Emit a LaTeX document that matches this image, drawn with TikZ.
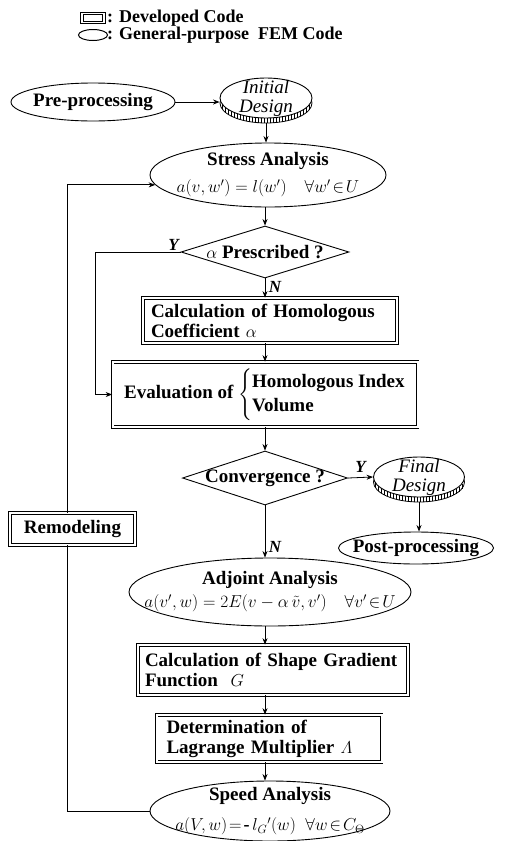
\documentclass[tikz,border=0pt]{standalone}
\usepackage{amsmath}
\usepackage{fontspec}
\setmainfont{Liberation Serif}
\usetikzlibrary{shapes.geometric,arrows.meta,calc}
\tikzset{
  txt/.style={font=\fontsize{19}{21}\selectfont\bfseries, inner sep=0pt},
  legf/.style={font=\fontsize{18}{19}\selectfont\bfseries, inner sep=0pt},
  itx/.style={font=\fontsize{19}{19}\selectfont\itshape, inner sep=0pt},
  yn/.style={font=\fontsize{17}{17}\selectfont\bfseries\itshape, inner sep=1.5pt},
  fem/.style={ellipse, draw, line width=0.9pt, fill=white, inner sep=0pt},
  dev/.style={rectangle, draw, double, double distance=2pt, line width=0.7pt,
    font=\fontsize{19}{20}\selectfont\bfseries, inner xsep=6pt, inner ysep=2pt},
  dec/.style={diamond, draw, line width=0.9pt, inner sep=0pt},
  arr/.style={-{Stealth[length=6.5pt,width=5pt]}, line width=0.8pt},
  lin/.style={line width=0.8pt},
}
\newcommand\fml{\fontsize{18}{19}\selectfont}
% disc rim: #1 cx, #2 cy, #3 x radius, #4 y radius
\newcommand\discrim[4]{%
  \draw[lin, fill=white] (#1,#2+5) ellipse [x radius=#3, y radius=#4];
  \foreach \t in {-44,-41,...,44}
    \draw[line width=0.5pt] ({#1+\t},{#2+#4*sqrt(1-(\t/#3)^2)}) -- ++(0,5);
}
\begin{document}
\begin{tikzpicture}[x=1pt,y=-1pt]
\useasboundingbox (0,0) rectangle (507,841);

% legend
\node[draw, double, double distance=1.6pt, line width=1pt, minimum width=22, minimum height=9, inner sep=0pt] (lrect) at (93,18) {};
\node[legf, anchor=west] (ltxt1) at (107,18) {: Developed Code};
\node[draw, ellipse, line width=1pt, minimum width=29, minimum height=11, inner sep=0pt] (lell) at (93,35) {};
\node[legf, anchor=west] (ltxt2) at (107,35) {: General-purpose\ \ FEM Code};

% pre-processing / initial design
\node[fem, minimum width=164, minimum height=38] (pre) at (93,102) {};
\node[txt] (pre-t) at (pre) {Pre-processing};
\discrim{266}{98}{46}{20}
\node[fem, minimum width=92, minimum height=40] (init) at (266,98) {};
\node[itx, align=center] (init-t) at (init) {Initial\\Design};
\coordinate (initb) at (266,123);

% stress analysis
\node[fem, minimum width=236, minimum height=64] (stress) at (268,175) {};
\node[txt, align=center] (stress-t) at (stress) {Stress Analysis\\[6pt]\fml$a(v,w')=l(w')\quad\forall w'\!\in\! U$};

% alpha prescribed
\node[dec, minimum width=168, minimum height=52] (alpha) at (265,252) {};
\node[txt] (alpha-t) at (alpha) {$\alpha$ Prescribed ?};

% calculation of homologous coefficient
\node[dev, minimum width=254, minimum height=45, text width=238, align=left] (calc) at (270,320.5)
  {Calculation of Homologous\\Coefficient $\alpha$};

% evaluation
\node[dev, minimum width=305, minimum height=65, align=center] (eval) at (265,394.5)
  {Evaluation of $\left\{\renewcommand\arraystretch{1.2}\begin{tabular}{@{}l@{}}Homologous Index\\Volume\end{tabular}\right.$};

% convergence
\node[dec, minimum width=165, minimum height=54] (conv) at (265,478) {};
\node[txt] (conv-t) at (conv) {Convergence ?};

% final design / post
\discrim{419}{477}{45.5}{20}
\node[fem, minimum width=91, minimum height=40] (final) at (419,477) {};
\node[itx, align=center] (final-t) at (final) {Final\\Design};
\coordinate (finalb) at (419,502);
\node[fem, minimum width=155, minimum height=32] (post) at (416,548) {};
\node[txt] (post-t) at (post) {Post-processing};

% adjoint analysis
\node[fem, minimum width=282, minimum height=68] (adj) at (270,592) {};
\node[txt, align=center] (adj-t) at (adj) {Adjoint Analysis\\[2pt]\fml$a(v',w)=2E(v-\alpha\,\tilde{v},v')\quad\forall v'\!\in\! U$};

% shape gradient
\node[dev, minimum width=270, minimum height=50, text width=256, align=left] (shape) at (273,670)
  {Calculation of Shape Gradient\\Function\ \ $G$};

% lagrange
\node[dev, minimum width=225, minimum height=47, text width=205, align=left] (lag) at (269,738.5)
  {Determination of\\Lagrange Multiplier $\varLambda$};

% speed analysis
\node[fem, minimum width=240, minimum height=60] (speed) at (270,811) {};
\node[txt, align=center] (speed-t) at (speed) {Speed Analysis\\[9pt]\fml$a(V,w)\!=\!\text{-}\,l_G{}'(w)\;\;\forall w\!\in\! C_{\Theta}$};

% remodeling
\node[dev, minimum width=125, minimum height=32] (remodel) at (72.5,529) {Remodeling};
\coordinate (rb) at (67,545);
\coordinate (rt) at (67,513);

% connectors
\draw[arr] (pre.east) -- (pre.east -| init.west);
\draw[arr] (initb) -- (initb |- stress.north);
\draw[arr] (stress.south -| alpha.north) -- (alpha.north);
\draw[arr] (alpha.south) -- node[yn, pos=0.45, right=2pt] (n1) {N} (alpha.south |- calc.north);
\coordinate (yc) at (95,252);
\draw[arr] (alpha.west) -- (yc) |- (eval.west);
\node[yn, anchor=south east] (y1) at (alpha.west) {Y};
\draw[arr] (calc.south -| alpha.south) -- (alpha.south |- eval.north);
\draw[arr] (eval.south) -- (conv.north);
\draw[arr] (conv.east) -- node[yn, midway, above=3pt] (y2) {Y} (final.west);
\draw[arr] (finalb) -- (post.north -| finalb);
\draw[arr] (conv.south) -- node[yn, pos=0.8, right=2pt] (n2) {N} (conv.south |- adj.north);
\draw[arr] (conv.south |- adj.south) -- (conv.south |- shape.north);
\draw[arr] (conv.south |- shape.south) -- (conv.south |- lag.north);
\draw[arr] (conv.south |- lag.south) -- (conv.south |- speed.north);
\draw[lin] (speed.west) -| (rb);
\draw[arr] (rt) |- (stress.185);

\end{tikzpicture}
\end{document}
